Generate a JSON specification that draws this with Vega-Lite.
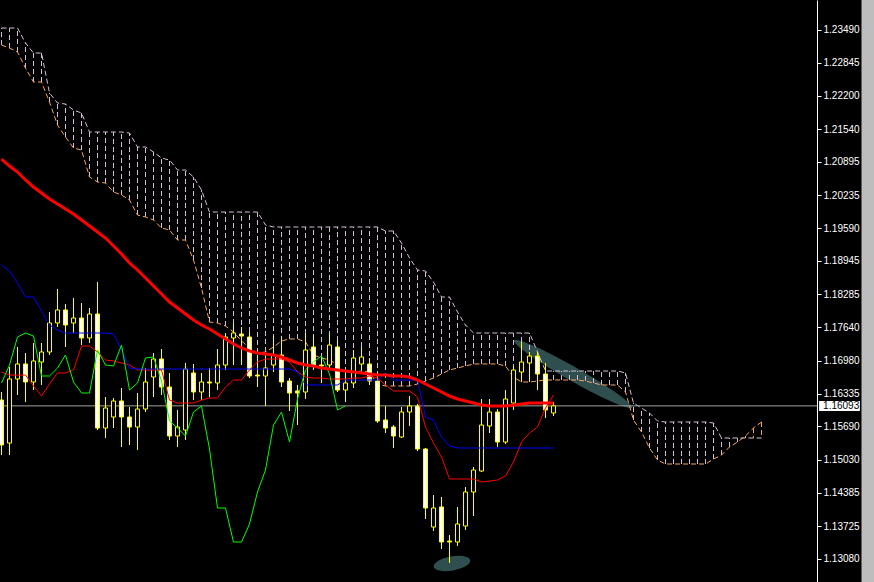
{
  "$schema": "https://vega.github.io/schema/vega-lite/v6.json",
  "width": 817,
  "height": 582,
  "autosize": {"type": "none"},
  "padding": {"left": 0, "top": 0, "right": 57, "bottom": 0},
  "background": "#000000",
  "config": {"view": {"stroke": null}, "font": "Liberation Sans", "axis": {"grid": false, "title": null, "labelOverlap": false}},
  "datasets": {
    "candles": [
      {"k":0,"o":1.16208,"h":1.16366,"l":1.15126,"c":1.15323,"ma":1.20951,"tk":1.16759,"kj":1.18865,"ck":1.16543},
      {"k":1,"o":1.15362,"h":1.16858,"l":1.15126,"c":1.16622,"ma":1.20813,"tk":1.16700,"kj":1.18747,"ck":1.16897},
      {"k":2,"o":1.16622,"h":1.17251,"l":1.16307,"c":1.16917,"ma":1.20695,"tk":1.16700,"kj":1.18511,"ck":1.17448},
      {"k":3,"o":1.16917,"h":1.17133,"l":1.16169,"c":1.16563,"ma":1.20538,"tk":1.16700,"kj":1.18235,"ck":1.17527},
      {"k":4,"o":1.16563,"h":1.17330,"l":1.16405,"c":1.16976,"ma":1.20400,"tk":1.16484,"kj":1.18235,"ck":1.17468},
      {"k":5,"o":1.16956,"h":1.17330,"l":1.16504,"c":1.17153,"ma":1.20282,"tk":1.16287,"kj":1.17960,"ck":1.16681},
      {"k":6,"o":1.17153,"h":1.17940,"l":1.17094,"c":1.17724,"ma":1.20164,"tk":1.16523,"kj":1.17684,"ck":1.16681},
      {"k":7,"o":1.17724,"h":1.18393,"l":1.17645,"c":1.17980,"ma":1.20066,"tk":1.16740,"kj":1.17586,"ck":1.16838},
      {"k":8,"o":1.17980,"h":1.18098,"l":1.17251,"c":1.17684,"ma":1.19967,"tk":1.16740,"kj":1.17527,"ck":1.17094},
      {"k":9,"o":1.17724,"h":1.18216,"l":1.17527,"c":1.17822,"ma":1.19869,"tk":1.16799,"kj":1.17527,"ck":1.16563},
      {"k":10,"o":1.17822,"h":1.18117,"l":1.17291,"c":1.17429,"ma":1.19751,"tk":1.17271,"kj":1.17527,"ck":1.16346},
      {"k":11,"o":1.17429,"h":1.18019,"l":1.17330,"c":1.17901,"ma":1.19633,"tk":1.17271,"kj":1.17527,"ck":1.16346},
      {"k":12,"o":1.17901,"h":1.18531,"l":1.15618,"c":1.15657,"ma":1.19515,"tk":1.17153,"kj":1.17527,"ck":1.17192},
      {"k":13,"o":1.15657,"h":1.16267,"l":1.15461,"c":1.16051,"ma":1.19396,"tk":1.16996,"kj":1.17527,"ck":1.16897},
      {"k":14,"o":1.15874,"h":1.16248,"l":1.15657,"c":1.16189,"ma":1.19239,"tk":1.16976,"kj":1.17507,"ck":1.16878},
      {"k":15,"o":1.16189,"h":1.16445,"l":1.15284,"c":1.15874,"ma":1.19082,"tk":1.16937,"kj":1.17192,"ck":1.17291},
      {"k":16,"o":1.15874,"h":1.16071,"l":1.15323,"c":1.15677,"ma":1.18904,"tk":1.16897,"kj":1.16838,"ck":1.16405},
      {"k":17,"o":1.15677,"h":1.16346,"l":1.15225,"c":1.16031,"ma":1.18767,"tk":1.16799,"kj":1.16818,"ck":1.16543},
      {"k":18,"o":1.16031,"h":1.16838,"l":1.15972,"c":1.16563,"ma":1.18609,"tk":1.16799,"kj":1.16818,"ck":1.17035},
      {"k":19,"o":1.16661,"h":1.17133,"l":1.16267,"c":1.17015,"ma":1.18452,"tk":1.16799,"kj":1.16818,"ck":1.17055},
      {"k":20,"o":1.17015,"h":1.17212,"l":1.16307,"c":1.16464,"ma":1.18294,"tk":1.16799,"kj":1.16818,"ck":1.16582},
      {"k":21,"o":1.16464,"h":1.16740,"l":1.15421,"c":1.15500,"ma":1.18137,"tk":1.16208,"kj":1.16818,"ck":1.15795},
      {"k":22,"o":1.15500,"h":1.16012,"l":1.15284,"c":1.15677,"ma":1.18019,"tk":1.16149,"kj":1.16818,"ck":1.15657},
      {"k":23,"o":1.15618,"h":1.16937,"l":1.15421,"c":1.16818,"ma":1.17901,"tk":1.16149,"kj":1.16818,"ck":1.15500},
      {"k":24,"o":1.16740,"h":1.16917,"l":1.16208,"c":1.16366,"ma":1.17783,"tk":1.16149,"kj":1.16818,"ck":1.15972},
      {"k":25,"o":1.16366,"h":1.16740,"l":1.16208,"c":1.16563,"ma":1.17684,"tk":1.16208,"kj":1.16818,"ck":1.16090},
      {"k":26,"o":1.16563,"h":1.16838,"l":1.16267,"c":1.16543,"ma":1.17606,"tk":1.16248,"kj":1.16818,"ck":1.15244},
      {"k":27,"o":1.16543,"h":1.17212,"l":1.16405,"c":1.16897,"ma":1.17507,"tk":1.16248,"kj":1.16818,"ck":1.14083},
      {"k":28,"o":1.16897,"h":1.17527,"l":1.16799,"c":1.17448,"ma":1.17409,"tk":1.16464,"kj":1.16818,"ck":1.14083},
      {"k":29,"o":1.17429,"h":1.17724,"l":1.16897,"c":1.17527,"ma":1.17310,"tk":1.16602,"kj":1.16818,"ck":1.13414},
      {"k":30,"o":1.17507,"h":1.17645,"l":1.16897,"c":1.17468,"ma":1.17232,"tk":1.16602,"kj":1.16818,"ck":1.13414},
      {"k":31,"o":1.17448,"h":1.17547,"l":1.16641,"c":1.16681,"ma":1.17173,"tk":1.16799,"kj":1.16818,"ck":1.13768},
      {"k":32,"o":1.16700,"h":1.17094,"l":1.16464,"c":1.16681,"ma":1.17133,"tk":1.16956,"kj":1.16818,"ck":1.14398},
      {"k":33,"o":1.16681,"h":1.17094,"l":1.16090,"c":1.16838,"ma":1.17114,"tk":1.17015,"kj":1.16818,"ck":1.14831},
      {"k":34,"o":1.16897,"h":1.17468,"l":1.16759,"c":1.17094,"ma":1.17094,"tk":1.17015,"kj":1.16818,"ck":1.15716},
      {"k":35,"o":1.17094,"h":1.17468,"l":1.16464,"c":1.16563,"ma":1.17055,"tk":1.17015,"kj":1.16818,"ck":1.15972},
      {"k":36,"o":1.16582,"h":1.16641,"l":1.15992,"c":1.16346,"ma":1.16996,"tk":1.16956,"kj":1.16818,"ck":1.15382},
      {"k":37,"o":1.16386,"h":1.16504,"l":1.15716,"c":1.16346,"ma":1.16937,"tk":1.16759,"kj":1.16759,"ck":1.16228},
      {"k":38,"o":1.16366,"h":1.17527,"l":1.16228,"c":1.17192,"ma":1.16897,"tk":1.16661,"kj":1.16504,"ck":1.16799},
      {"k":39,"o":1.17251,"h":1.17488,"l":1.16799,"c":1.16897,"ma":1.16878,"tk":1.16641,"kj":1.16504,"ck":1.16956},
      {"k":40,"o":1.16897,"h":1.17055,"l":1.16543,"c":1.16878,"ma":1.16838,"tk":1.16641,"kj":1.16504,"ck":1.17074},
      {"k":41,"o":1.16897,"h":1.17527,"l":1.16799,"c":1.17291,"ma":1.16818,"tk":1.16622,"kj":1.16504,"ck":1.16720},
      {"k":42,"o":1.17251,"h":1.17389,"l":1.16366,"c":1.16405,"ma":1.16799,"tk":1.16622,"kj":1.16504,"ck":1.16012},
      {"k":43,"o":1.16405,"h":1.16759,"l":1.16169,"c":1.16543,"ma":1.16779,"tk":1.16622,"kj":1.16602,"ck":1.16093},
      {"k":44,"o":1.16543,"h":1.17192,"l":1.16445,"c":1.17035,"ma":1.16759,"tk":1.16641,"kj":1.16602},
      {"k":45,"o":1.16917,"h":1.17251,"l":1.16799,"c":1.17055,"ma":1.16740,"tk":1.16641,"kj":1.16602},
      {"k":46,"o":1.16917,"h":1.17035,"l":1.16504,"c":1.16582,"ma":1.16720,"tk":1.16681,"kj":1.16602},
      {"k":47,"o":1.16582,"h":1.16759,"l":1.15756,"c":1.15795,"ma":1.16700,"tk":1.16641,"kj":1.16602},
      {"k":48,"o":1.15815,"h":1.16090,"l":1.15559,"c":1.15657,"ma":1.16700,"tk":1.16504,"kj":1.16740},
      {"k":49,"o":1.15677,"h":1.15716,"l":1.15264,"c":1.15500,"ma":1.16681,"tk":1.16386,"kj":1.16602},
      {"k":50,"o":1.15480,"h":1.16071,"l":1.15461,"c":1.15972,"ma":1.16681,"tk":1.16386,"kj":1.16602},
      {"k":51,"o":1.15972,"h":1.16287,"l":1.15697,"c":1.16090,"ma":1.16661,"tk":1.16386,"kj":1.16602},
      {"k":52,"o":1.16090,"h":1.16130,"l":1.15205,"c":1.15244,"ma":1.16602,"tk":1.16267,"kj":1.16602},
      {"k":53,"o":1.15244,"h":1.15264,"l":1.13867,"c":1.14083,"ma":1.16523,"tk":1.15677,"kj":1.15874},
      {"k":54,"o":1.13709,"h":1.14339,"l":1.13631,"c":1.14083,"ma":1.16445,"tk":1.15362,"kj":1.15815},
      {"k":55,"o":1.14103,"h":1.14300,"l":1.13276,"c":1.13414,"ma":1.16366,"tk":1.15087,"kj":1.15480},
      {"k":56,"o":1.13434,"h":1.13552,"l":1.13001,"c":1.13414,"ma":1.16287,"tk":1.14654,"kj":1.15303},
      {"k":57,"o":1.13414,"h":1.14103,"l":1.13335,"c":1.13768,"ma":1.16228,"tk":1.14654,"kj":1.15264},
      {"k":58,"o":1.13729,"h":1.14496,"l":1.13650,"c":1.14398,"ma":1.16189,"tk":1.14654,"kj":1.15264},
      {"k":59,"o":1.14398,"h":1.14890,"l":1.13926,"c":1.14831,"ma":1.16149,"tk":1.14654,"kj":1.15264},
      {"k":60,"o":1.14811,"h":1.16228,"l":1.14792,"c":1.15716,"ma":1.16110,"tk":1.14595,"kj":1.15264},
      {"k":61,"o":1.15697,"h":1.16228,"l":1.15559,"c":1.15972,"ma":1.16090,"tk":1.14614,"kj":1.15264},
      {"k":62,"o":1.15972,"h":1.16031,"l":1.15284,"c":1.15382,"ma":1.16090,"tk":1.14634,"kj":1.15264},
      {"k":63,"o":1.15382,"h":1.16405,"l":1.15343,"c":1.16228,"ma":1.16090,"tk":1.14713,"kj":1.15264},
      {"k":64,"o":1.16149,"h":1.16878,"l":1.16012,"c":1.16799,"ma":1.16110,"tk":1.14988,"kj":1.15264},
      {"k":65,"o":1.16759,"h":1.17350,"l":1.16563,"c":1.16956,"ma":1.16130,"tk":1.15382,"kj":1.15264},
      {"k":66,"o":1.16937,"h":1.17153,"l":1.16563,"c":1.17074,"ma":1.16149,"tk":1.15559,"kj":1.15264},
      {"k":67,"o":1.17074,"h":1.17153,"l":1.16405,"c":1.16720,"ma":1.16149,"tk":1.15677,"kj":1.15264},
      {"k":68,"o":1.16720,"h":1.16937,"l":1.15854,"c":1.16012,"ma":1.16149,"tk":1.16051,"kj":1.15264},
      {"k":69,"o":1.15953,"h":1.16169,"l":1.15894,"c":1.16093,"ma":1.16149,"tk":1.16307,"kj":1.15264}
    ],
    "cloud": [
      {"k":0,"a":1.23194,"b":1.23529},{"k":1,"a":1.23135,"b":1.23529},{"k":2,"a":1.23057,"b":1.23529},
      {"k":3,"a":1.22742,"b":1.23234},{"k":4,"a":1.22466,"b":1.23037},{"k":5,"a":1.22466,"b":1.23037},
      {"k":6,"a":1.22073,"b":1.22250},{"k":7,"a":1.21620,"b":1.22053},{"k":8,"a":1.21384,"b":1.22033},
      {"k":9,"a":1.21168,"b":1.21915},{"k":10,"a":1.21128,"b":1.21856},{"k":11,"a":1.20597,"b":1.21482},
      {"k":12,"a":1.20498,"b":1.21482},{"k":13,"a":1.20479,"b":1.21482},{"k":14,"a":1.20302,"b":1.21482},
      {"k":15,"a":1.20243,"b":1.21482},{"k":16,"a":1.20144,"b":1.21463},{"k":17,"a":1.19849,"b":1.21187},
      {"k":18,"a":1.19810,"b":1.21187},{"k":19,"a":1.19751,"b":1.21089},{"k":20,"a":1.19593,"b":1.20971},
      {"k":21,"a":1.19554,"b":1.20931},{"k":22,"a":1.19357,"b":1.20735},{"k":23,"a":1.19357,"b":1.20735},
      {"k":24,"a":1.18964,"b":1.20597},{"k":25,"a":1.18412,"b":1.20341},{"k":26,"a":1.17743,"b":1.19908},
      {"k":27,"a":1.17724,"b":1.19908},{"k":28,"a":1.17665,"b":1.19908},{"k":29,"a":1.17547,"b":1.19908},
      {"k":30,"a":1.17370,"b":1.19908},{"k":31,"a":1.17232,"b":1.19908},{"k":32,"a":1.17133,"b":1.19908},
      {"k":33,"a":1.17153,"b":1.19652},{"k":34,"a":1.17251,"b":1.19613},{"k":35,"a":1.17370,"b":1.19613},
      {"k":36,"a":1.17409,"b":1.19613},{"k":37,"a":1.17409,"b":1.19613},{"k":38,"a":1.17350,"b":1.19613},
      {"k":39,"a":1.17094,"b":1.19613},{"k":40,"a":1.17035,"b":1.19613},{"k":41,"a":1.16996,"b":1.19613},
      {"k":42,"a":1.16897,"b":1.19613},{"k":43,"a":1.16759,"b":1.19613},{"k":44,"a":1.16759,"b":1.19613},
      {"k":45,"a":1.16779,"b":1.19613},{"k":46,"a":1.16759,"b":1.19613},{"k":47,"a":1.16523,"b":1.19613},
      {"k":48,"a":1.16484,"b":1.19534},{"k":49,"a":1.16484,"b":1.19534},{"k":50,"a":1.16484,"b":1.19298},
      {"k":51,"a":1.16484,"b":1.19003},{"k":52,"a":1.16523,"b":1.18767},{"k":53,"a":1.16582,"b":1.18747},
      {"k":54,"a":1.16641,"b":1.18531},{"k":55,"a":1.16720,"b":1.18235},{"k":56,"a":1.16799,"b":1.18235},
      {"k":57,"a":1.16838,"b":1.17940},{"k":58,"a":1.16878,"b":1.17684},{"k":59,"a":1.16917,"b":1.17527},
      {"k":60,"a":1.16917,"b":1.17527},{"k":61,"a":1.16917,"b":1.17527},{"k":62,"a":1.16917,"b":1.17527},
      {"k":63,"a":1.16878,"b":1.17527},{"k":64,"a":1.16661,"b":1.17527},{"k":65,"a":1.16563,"b":1.17527},
      {"k":66,"a":1.16563,"b":1.17527},{"k":67,"a":1.16582,"b":1.17153},{"k":68,"a":1.16602,"b":1.16779},
      {"k":69,"a":1.16602,"b":1.16779},{"k":70,"a":1.16602,"b":1.16779},{"k":71,"a":1.16602,"b":1.16779},
      {"k":72,"a":1.16602,"b":1.16779},{"k":73,"a":1.16582,"b":1.16779},{"k":74,"a":1.16543,"b":1.16779},
      {"k":75,"a":1.16504,"b":1.16779},{"k":76,"a":1.16504,"b":1.16779},{"k":77,"a":1.16504,"b":1.16779},
      {"k":78,"a":1.16366,"b":1.16740},{"k":79,"a":1.15815,"b":1.16149},{"k":80,"a":1.15579,"b":1.16051},
      {"k":81,"a":1.15264,"b":1.15953},{"k":82,"a":1.15028,"b":1.15795},{"k":83,"a":1.14949,"b":1.15776},
      {"k":84,"a":1.14949,"b":1.15776},{"k":85,"a":1.14949,"b":1.15776},{"k":86,"a":1.14949,"b":1.15776},
      {"k":87,"a":1.14949,"b":1.15776},{"k":88,"a":1.14949,"b":1.15776},{"k":89,"a":1.15047,"b":1.15756},
      {"k":90,"a":1.15126,"b":1.15461},{"k":91,"a":1.15284,"b":1.15461},{"k":92,"a":1.15382,"b":1.15461},
      {"k":93,"a":1.15500,"b":1.15461},{"k":94,"a":1.15657,"b":1.15461},{"k":95,"a":1.15776,"b":1.15461}
    ]
  },
  "layer": [
    {
      "data": {"values": [{"k": 71.44, "p": 1.1672}]},
      "mark": {"type": "point", "shape": "M0.8686,0.4955C0.8404,0.5449,0.4287,0.3632,-0.051,0.0895C-0.5307,-0.1842,-0.8968,-0.4461,-0.8686,-0.4955C-0.8404,-0.5449,-0.4287,-0.3632,0.051,-0.0895C0.5307,0.1842,0.8968,0.4461,0.8686,0.4955Z", "size": 18496, "filled": true, "color": "#2f4f4f", "opacity": 1, "strokeWidth": 0},
      "encoding": {
        "x": {"field": "k", "type": "quantitative", "scale": {"domain": [-0.1875, 101.9375], "nice": false, "zero": false, "padding": 0}, "axis": null},
        "y": {"field": "p", "type": "quantitative", "title": null, "scale": {"domain": [1.12627, 1.2408], "nice": false, "zero": false, "padding": 0},
          "axis": {
            "orient": "right", "title": null, "grid": false, "zindex": 1,
            "values": [1.1308, 1.13725, 1.14385, 1.1503, 1.1569, 1.16335, 1.1698, 1.1764, 1.18285, 1.18945, 1.1959, 1.20235, 1.20895, 1.2154, 1.222, 1.22845, 1.2349],
            "tickCount": 40,
            "format": ".5f",
            "labelColor": "#ffffff",
            "labelFont": "Liberation Sans", "labelFontSize": 10,
            "labelOverlap": false, "labelFlush": false, "labelBound": false,
            "labelPadding": 2, "tickSize": 4, "tickColor": "#ffffff", "tickWidth": 1,
            "domainColor": "#ffffff", "domainWidth": 1
          }
        }
      }
    },
    {
      "data": {"values": [{"k": 56.31, "p": 1.12991}]},
      "mark": {"type": "point", "shape": "M0.985,-0.174C1.0215,0.0327,0.6101,0.2782,0.0661,0.3743C-0.4779,0.4704,-0.9485,0.3807,-0.985,0.174C-1.0215,-0.0327,-0.6101,-0.2782,-0.0661,-0.3743C0.4779,-0.4704,0.9485,-0.3807,0.985,-0.174Z", "size": 1369, "filled": true, "color": "#2f4f4f", "opacity": 1, "strokeWidth": 0},
      "encoding": {
        "x": {"field": "k", "type": "quantitative", "scale": {"domain": [-0.1875, 101.9375], "nice": false, "zero": false, "padding": 0}, "axis": null},
        "y": {"field": "p", "type": "quantitative", "title": null, "scale": {"domain": [1.12627, 1.2408], "nice": false, "zero": false, "padding": 0}}
      }
    },
    {
      "data": {"name": "cloud"},
      "mark": {"type": "rule", "strokeDash": [5, 3], "strokeWidth": 1},
      "encoding": {
        "x": {"field": "k", "type": "quantitative", "scale": {"domain": [-0.1875, 101.9375], "nice": false, "zero": false, "padding": 0}, "axis": null},
        "y": {"field": "a", "type": "quantitative", "title": null, "scale": {"domain": [1.12627, 1.2408], "nice": false, "zero": false, "padding": 0}},
        "y2": {"field": "b"},
        "color": {"condition": {"test": "datum.a > datum.b", "value": "#f4a460"}, "value": "#d8bfd8"}
      }
    },
    {
      "data": {"name": "cloud"},
      "mark": {"type": "line", "strokeDash": [5, 3], "strokeWidth": 1, "color": "#f4a460"},
      "encoding": {
        "x": {"field": "k", "type": "quantitative", "scale": {"domain": [-0.1875, 101.9375], "nice": false, "zero": false, "padding": 0}, "axis": null},
        "y": {"field": "a", "type": "quantitative", "title": null, "scale": {"domain": [1.12627, 1.2408], "nice": false, "zero": false, "padding": 0}}
      }
    },
    {
      "data": {"name": "cloud"},
      "mark": {"type": "line", "strokeDash": [5, 3], "strokeWidth": 1, "color": "#d8bfd8"},
      "encoding": {
        "x": {"field": "k", "type": "quantitative", "scale": {"domain": [-0.1875, 101.9375], "nice": false, "zero": false, "padding": 0}, "axis": null},
        "y": {"field": "b", "type": "quantitative", "title": null, "scale": {"domain": [1.12627, 1.2408], "nice": false, "zero": false, "padding": 0}}
      }
    },
    {
      "data": {"values": [{}]},
      "mark": {"type": "rule", "color": "#a0a0a0", "strokeWidth": 1},
      "encoding": {
        "y": {"datum": 1.16093, "type": "quantitative", "title": null, "scale": {"domain": [1.12627, 1.2408], "nice": false, "zero": false, "padding": 0}}
      }
    },
    {
      "data": {"name": "candles"},
      "mark": {"type": "rule", "color": "#ffff00", "strokeWidth": 1},
      "encoding": {
        "x": {"field": "k", "type": "quantitative", "scale": {"domain": [-0.1875, 101.9375], "nice": false, "zero": false, "padding": 0}, "axis": null},
        "y": {"field": "l", "type": "quantitative", "title": null, "scale": {"domain": [1.12627, 1.2408], "nice": false, "zero": false, "padding": 0}},
        "y2": {"field": "h"}
      }
    },
    {
      "data": {"name": "candles"},
      "mark": {"type": "bar", "size": 4, "stroke": "#ffff00", "strokeWidth": 1},
      "encoding": {
        "x": {"field": "k", "type": "quantitative", "scale": {"domain": [-0.1875, 101.9375], "nice": false, "zero": false, "padding": 0}, "axis": null},
        "y": {"field": "o", "type": "quantitative", "title": null, "scale": {"domain": [1.12627, 1.2408], "nice": false, "zero": false, "padding": 0}},
        "y2": {"field": "c"},
        "fill": {"condition": {"test": "datum.c < datum.o", "value": "#ffffff"}, "value": "#000000"}
      }
    },
    {
      "data": {"name": "candles"},
      "mark": {"type": "line", "color": "#ff0000", "strokeWidth": 1},
      "encoding": {
        "x": {"field": "k", "type": "quantitative", "scale": {"domain": [-0.1875, 101.9375], "nice": false, "zero": false, "padding": 0}, "axis": null},
        "y": {"field": "tk", "type": "quantitative", "title": null, "scale": {"domain": [1.12627, 1.2408], "nice": false, "zero": false, "padding": 0}}
      }
    },
    {
      "data": {"name": "candles"},
      "mark": {"type": "line", "color": "#0000ff", "strokeWidth": 1},
      "encoding": {
        "x": {"field": "k", "type": "quantitative", "scale": {"domain": [-0.1875, 101.9375], "nice": false, "zero": false, "padding": 0}, "axis": null},
        "y": {"field": "kj", "type": "quantitative", "title": null, "scale": {"domain": [1.12627, 1.2408], "nice": false, "zero": false, "padding": 0}}
      }
    },
    {
      "data": {"name": "candles"},
      "mark": {"type": "line", "color": "#00ff00", "strokeWidth": 1},
      "encoding": {
        "x": {"field": "k", "type": "quantitative", "scale": {"domain": [-0.1875, 101.9375], "nice": false, "zero": false, "padding": 0}, "axis": null},
        "y": {"field": "ck", "type": "quantitative", "title": null, "scale": {"domain": [1.12627, 1.2408], "nice": false, "zero": false, "padding": 0}}
      }
    },
    {
      "data": {"name": "candles"},
      "mark": {"type": "line", "color": "#ff0000", "strokeWidth": 3},
      "encoding": {
        "x": {"field": "k", "type": "quantitative", "scale": {"domain": [-0.1875, 101.9375], "nice": false, "zero": false, "padding": 0}, "axis": null},
        "y": {"field": "ma", "type": "quantitative", "title": null, "scale": {"domain": [1.12627, 1.2408], "nice": false, "zero": false, "padding": 0}}
      }
    },
    {
      "data": {"values": [{}]},
      "mark": {"type": "rect", "fill": "#ffffff"},
      "encoding": {
        "x": {"datum": 102.2, "type": "quantitative", "scale": {"domain": [-0.1875, 101.9375], "nice": false, "zero": false, "padding": 0}, "axis": null},
        "x2": {"datum": 107.3},
        "y": {"datum": 1.16189, "type": "quantitative", "title": null, "scale": {"domain": [1.12627, 1.2408], "nice": false, "zero": false, "padding": 0}},
        "y2": {"datum": 1.15992}
      }
    },
    {
      "data": {"values": [{"label": "1.16093", "p": 1.16093}]},
      "mark": {"type": "text", "color": "#000000", "font": "Liberation Sans", "fontSize": 10, "align": "left", "baseline": "middle"},
      "encoding": {
        "x": {"datum": 102.7, "type": "quantitative", "scale": {"domain": [-0.1875, 101.9375], "nice": false, "zero": false, "padding": 0}, "axis": null},
        "y": {"field": "p", "type": "quantitative", "title": null, "scale": {"domain": [1.12627, 1.2408], "nice": false, "zero": false, "padding": 0}},
        "text": {"field": "label"}
      }
    },
    {
      "data": {"values": [{}]},
      "mark": {"type": "rect", "fill": "#bdbdbd"},
      "encoding": {
        "x": {"datum": 107.5, "type": "quantitative", "scale": {"domain": [-0.1875, 101.9375], "nice": false, "zero": false, "padding": 0}, "axis": null},
        "x2": {"datum": 109.3},
        "y": {"datum": 1.2408, "type": "quantitative", "title": null, "scale": {"domain": [1.12627, 1.2408], "nice": false, "zero": false, "padding": 0}},
        "y2": {"datum": 1.12627}
      }
    }
  ]
}
